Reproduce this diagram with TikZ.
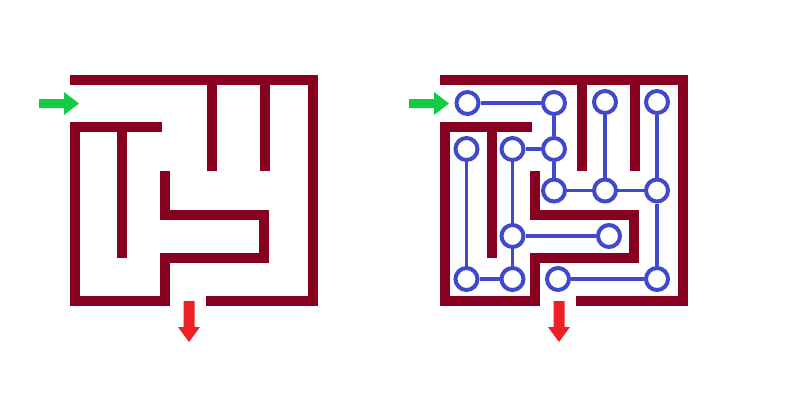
\documentclass[tikz,border=0pt]{standalone}
\usepackage{tikz}
\usepackage{xcolor}
\definecolor{wallred}{HTML}{880020}
\definecolor{pathblue}{HTML}{4048CC}
\definecolor{ingreen}{HTML}{11CC44}
\definecolor{outred}{HTML}{EE2027}
\tikzset{
  wall/.style={wallred, line width=10pt, line cap=butt, line join=miter},
  spot/.style={circle, draw=pathblue, line width=4pt, fill=white, minimum size=22pt, inner sep=0pt},
  link/.style={pathblue, line width=3.4pt}
}

\begin{document}
\begin{tikzpicture}[x=1pt,y=-1pt]
  \useasboundingbox (0,0) rectangle (787,402);
  \foreach \dx in {0,370} {
    \begin{scope}[xshift=\dx pt]
      % walls
      \draw[wall] (70,80) -- (313,80) -- (313,301) -- (206,301);
      \draw[wall] (162,127) -- (75,127) -- (75,301) -- (165,301) -- (165,257.5)
        -- (264,257.5) -- (264,214.5) -- (165,214.5) -- (165,171);
      \draw[wall] (122,127) -- (122,258);
      \draw[wall] (212,80) -- (212,171);
      \draw[wall] (265,80) -- (265,171);
      % in and out
      \fill[ingreen] (39,99) -- (64,99) -- (64,92) -- (79,103.5) -- (64,115)
        -- (64,108) -- (39,108) -- cycle;
      \fill[outred] (183.5,301) -- (194.5,301) -- (194.5,327) -- (200,327)
        -- (189,342) -- (178,327) -- (183.5,327) -- cycle;
    \end{scope}
  }
  % graph of the right maze
  \node[spot] (v1) at (467.5,103) {};
  \node[spot] (v2) at (554,103) {};
  \node[spot] (v3) at (605,102) {};
  \node[spot] (v4) at (657,102) {};
  \node[spot] (v5) at (466.5,149) {};
  \node[spot] (v6) at (512.5,149) {};
  \node[spot] (v7) at (554,149) {};
  \node[spot] (v8) at (554,190.5) {};
  \node[spot] (v9) at (605,190.5) {};
  \node[spot] (v10) at (657,190.5) {};
  \node[spot] (v11) at (512.5,236) {};
  \node[spot] (v12) at (609,236) {};
  \node[spot] (v13) at (466.5,279) {};
  \node[spot] (v14) at (512.5,279) {};
  \node[spot] (v15) at (558,279) {};
  \node[spot] (v16) at (657,279) {};
  \draw[link] (v1) -- (v2);
  \draw[link] (v2) -- (v7);
  \draw[link] (v6) -- (v7);
  \draw[link] (v7) -- (v8);
  \draw[link] (v8) -- (v9);
  \draw[link] (v9) -- (v10);
  \draw[link] (v3) -- (v9);
  \draw[link] (v4) -- (v10);
  \draw[link] (v10) -- (v16);
  \draw[link] (v15) -- (v16);
  \draw[link] (v5) -- (v13);
  \draw[link] (v13) -- (v14);
  \draw[link] (v14) -- (v11);
  \draw[link] (v11) -- (v6);
  \draw[link] (v11) -- (v12);
\end{tikzpicture}
\end{document}
